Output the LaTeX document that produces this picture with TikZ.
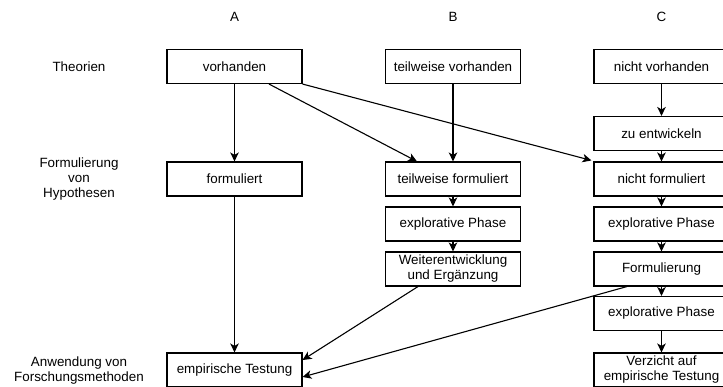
\documentclass[tikz,border=0pt]{standalone}
\usepackage{fontspec}
\setmainfont{Liberation Sans}
\usetikzlibrary{arrows.meta,calc}
\begin{document}
\begin{tikzpicture}[x=1pt,y=-1pt,
  every node/.style={font=\fontsize{13.4}{15}\selectfont, align=center, inner sep=0pt},
  box/.style={draw, line width=1.1pt, minimum width=135, minimum height=34, fill=white},
  conn/.style={line width=1.1pt, -{Stealth[length=9pt,width=8.5pt,inset=2.5pt]}}]
\useasboundingbox (0,0) rectangle (723,387);
\clip (0,0) rectangle (723,387);
% column headers
\node (hA) at (234.5,17) {A};
\node (hB) at (453,17) {B};
\node (hC) at (661.5,17) {C};
% row labels
\node (rT) at (79,67) {Theorien};
\node (rF) at (79,179.5) {Formulierung\\von\\Hypothesen};
\node (rA) at (79,371) {Anwendung von\\Forschungsmethoden};
% column A
\node[box] (aV) at (234.5,66.5) {vorhanden};
\node[box] (aF) at (234.5,179) {formuliert};
\node[box] (aE) at (234.5,370) {empirische Testung};
% column B
\node[box] (bV) at (453,66.5) {teilweise vorhanden};
\node[box] (bF) at (453,179) {teilweise formuliert};
\node[box] (bE) at (453,224) {explorative Phase};
\node[box] (bW) at (453,269) {Weiterentwicklung\\und Ergänzung};
% column C
\node[box] (cV) at (661.5,66.5) {nicht vorhanden};
\node[box] (cZ) at (661.5,133.5) {zu entwickeln};
\node[box] (cF) at (661.5,179) {nicht formuliert};
\node[box] (cE1) at (661.5,224) {explorative Phase};
\node[box] (cFo) at (661.5,269) {Formulierung};
\node[box] (cE2) at (661.5,313.5) {explorative Phase};
\node[box] (cVz) at (661.5,370) {Verzicht auf\\empirische Testung};
% connectors
\draw[conn] (aV) -- (aF);
\draw[conn] (aF) -- (aE);
\draw[conn] ($(aV.south)+(34.5,0)$) -- ($(bF.north)+(-36,0)$);
\draw[conn] (aV.south east) -- ($(cF.north west)+(-2,-1)$);
\draw[conn] (bV) -- (bF);
\draw[conn] (bF) -- (bE);
\draw[conn] (bE) -- (bW);
\draw[conn] (cV) -- (cZ);
\draw[conn] (cZ) -- (cF);
\draw[conn] (cF) -- (cE1);
\draw[conn] (cE1) -- (cFo);
\draw[conn] (cFo) -- (cE2);
\draw[conn] (cE2) -- (cVz);
\draw[conn] ($(bW.south)+(-35,0)$) -- ($(aE.east)+(0,-10)$);
\draw[conn] ($(cFo.south)+(-34.5,0)$) -- ($(aE.east)+(0,7)$);
\end{tikzpicture}
\end{document}
